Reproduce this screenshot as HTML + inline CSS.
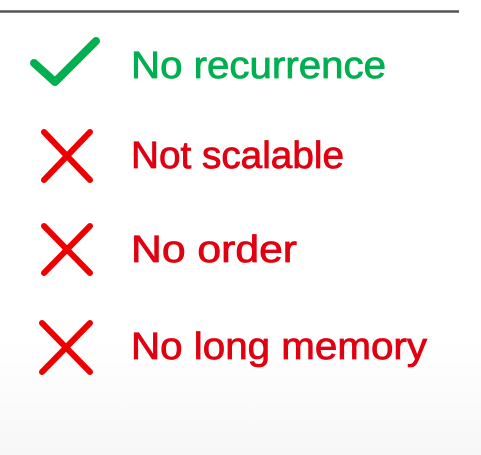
<!DOCTYPE html>
<html><head><style>
html,body{margin:0;padding:0;}
body{width:481px;height:455px;overflow:hidden;background:linear-gradient(#fff 0,#fff 340px,#f7f7f7 455px);}
svg{display:block}
</style></head><body>
<svg width="481" height="455" viewBox="0 0 481 455" xmlns="http://www.w3.org/2000/svg">
<line x1="0" y1="11.5" x2="459" y2="11.5" stroke="#555" stroke-width="2.5"/>
<polyline points="34,63 55,82 96,41" fill="none" stroke="#00b050" stroke-width="8" stroke-linecap="round" stroke-linejoin="round"/>
<g stroke="#ee0000" stroke-width="6" stroke-linecap="round">
<line x1="44" y1="132" x2="90" y2="180"/><line x1="90" y1="132" x2="44" y2="180"/>
<line x1="44" y1="226" x2="90" y2="273"/><line x1="90" y1="226" x2="44" y2="273"/>
<line x1="42" y1="323" x2="90" y2="372"/><line x1="90" y1="323" x2="42" y2="372"/>
</g>
<g font-family="Liberation Sans, sans-serif" font-size="38" stroke-width="0.8">
<text x="131" y="78" fill="#00b050" stroke="#00b050" textLength="255" lengthAdjust="spacingAndGlyphs">No recurrence</text>
<text x="131" y="168" fill="#e00010" stroke="#e00010" textLength="213" lengthAdjust="spacingAndGlyphs">Not scalable</text>
<text x="131" y="262" fill="#e00010" stroke="#e00010" textLength="166" lengthAdjust="spacingAndGlyphs">No order</text>
<text x="131" y="359" fill="#e00010" stroke="#e00010" textLength="296" lengthAdjust="spacingAndGlyphs">No long memory</text>
</g>
</svg>
</body></html>
